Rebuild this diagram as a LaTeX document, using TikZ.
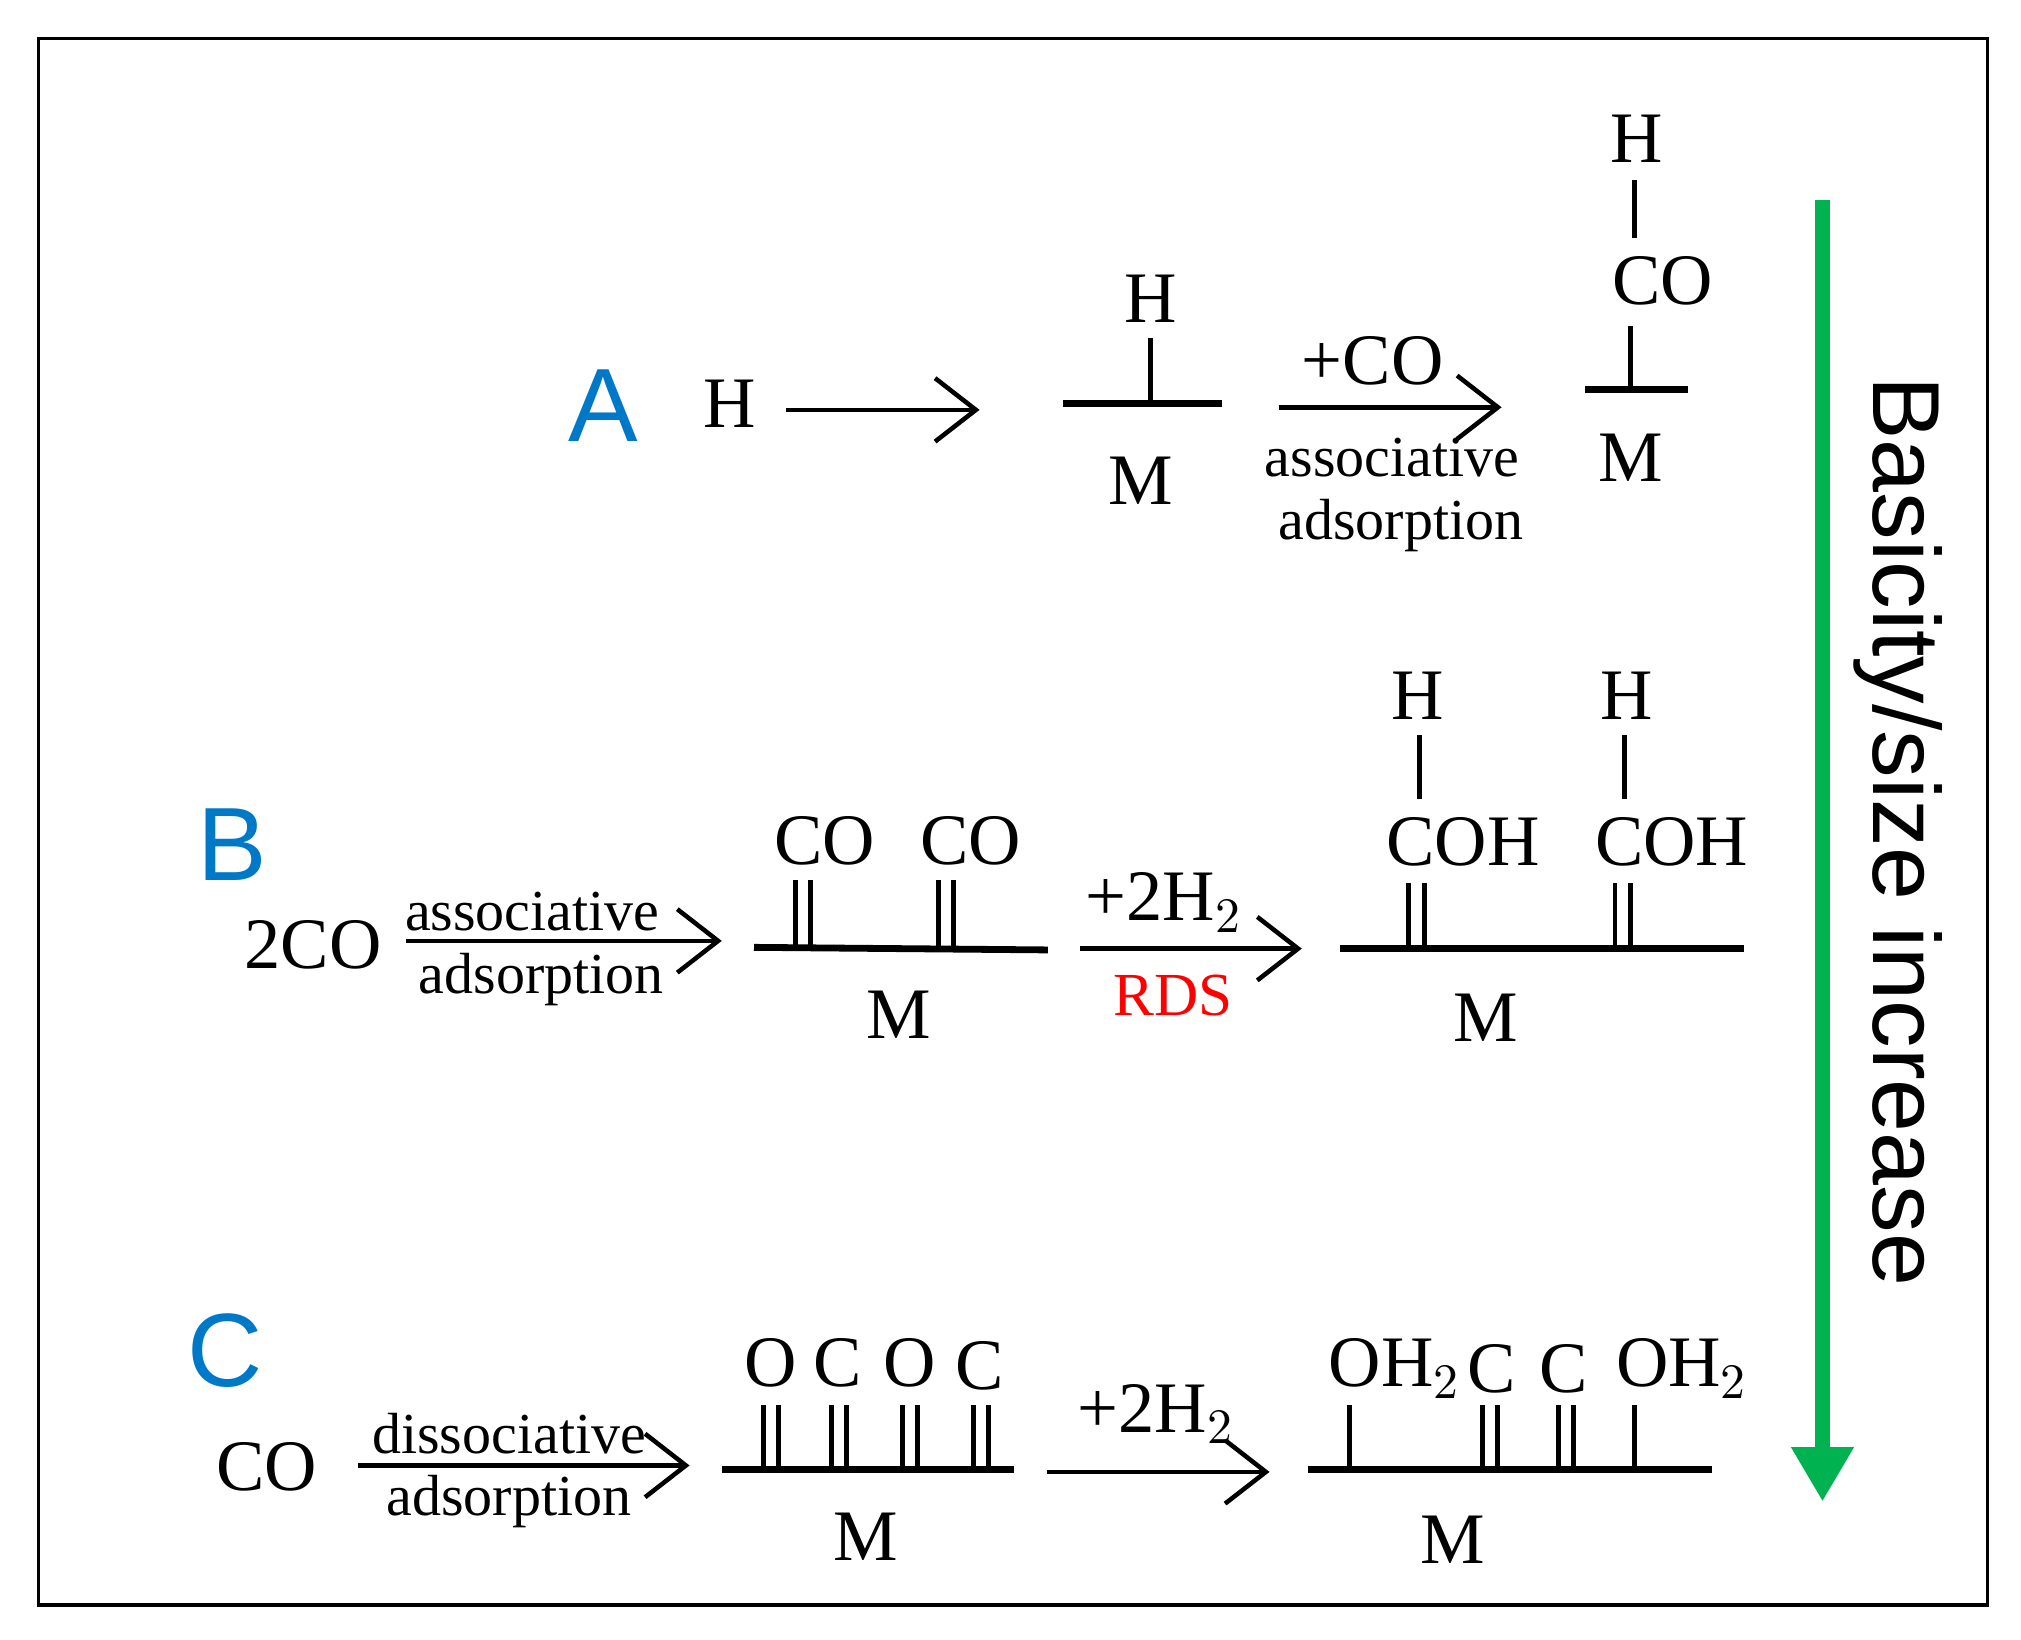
\documentclass[tikz,border=0pt]{standalone}
\usepackage{fontspec}
\setmainfont{Liberation Serif}
\newfontfamily\arialf{Liberation Sans}
\usetikzlibrary{arrows.meta}
\definecolor{lblue}{RGB}{0,120,200}
\definecolor{agreen}{RGB}{0,178,80}
\begin{document}
\begin{tikzpicture}[x=0.01cm,y=-0.01cm,
  txt/.style={font=\fontsize{16}{18}\selectfont,inner sep=0pt},
  sm/.style={font=\fontsize{12.8}{15}\selectfont,inner sep=0pt},
  lab/.style={font=\arialf\fontsize{23}{25}\selectfont,text=lblue,inner sep=0pt},
  rx/.style={line width=1pt,-{Straight Barb[length=9pt,width=14pt,line width=1pt]}},
  surf/.style={line width=1.5pt},
  bond/.style={line width=1.1pt}]
\useasboundingbox (0,0) rectangle (1568,1272);
\draw[line width=0.8pt] (30,30) rectangle (1542,1245);
% A
\node[lab] (la) at (468,315) {A};
\node[txt] (hA) at (566,313) {H};
\coordinate (a1) at (610,318); \coordinate (a2) at (760,318);
\draw[rx] (a1) -- (a2);
\draw[surf] (825,313) -- (948,313);
\draw[bond] (893,313) -- (893,262);
\node[txt] at (893,232) {H};
\node[txt] at (885,373) {M};
\coordinate (a3) at (992,316); \coordinate (a4) at (1165,316);
\draw[rx] (a3) -- (a4);
\node[txt] at (1065,280) {+CO};
\node[sm] at (1080,355) {associative};
\node[sm] at (1087,408) {adsorption};
\draw[surf] (1230,302) -- (1310,302);
\draw[bond] (1265,302) -- (1265,253);
\node[txt] at (1290,218) {CO};
\draw[bond] (1268,185) -- (1268,140);
\node[txt] at (1270,108) {H};
\node[txt] at (1265,355) {M};
% green arrow
\coordinate (g1) at (1414,155); \coordinate (g2) at (1414,1165);
\draw[agreen,line width=3.2pt,-{Triangle[length=12pt,width=13pt]}] (g1) -- (g2);
\node[font=\arialf\fontsize{21}{24}\selectfont,rotate=-90,inner sep=0pt] at (1473,645) {Basicity/size increase};
% B
\node[lab] at (180,655) {B};
\node[txt] at (243,733) {2CO};
\coordinate (b1) at (315,730); \coordinate (b2) at (560,730);
\draw[rx] (b1) -- (b2);
\node[sm] at (413,707) {associative};
\node[sm] at (420,760) {adsorption};
\draw[surf] (585,735) -- (813,737);
\foreach \x in {617,629,728,740} \draw[bond] (\x,735) -- (\x,683);
\node[txt] at (640,652) {CO};
\node[txt] at (753,652) {CO};
\node[txt] at (697,787) {M};
\coordinate (b3) at (838,736); \coordinate (b4) at (1010,736);
\draw[rx] (b3) -- (b4);
\node[txt] at (903,700) {+2H$_2$};
\node[inner sep=0pt,text=red,font=\fontsize{13.5}{15}\selectfont] at (910,772) {RDS};
\draw[surf] (1040,736) -- (1353,736);
\foreach \x in {1093,1105,1253,1265} \draw[bond] (\x,736) -- (\x,685);
\node[txt] at (1135,653) {COH};
\node[txt] at (1297,653) {COH};
\draw[bond] (1101,620) -- (1101,570);
\draw[bond] (1260,620) -- (1260,570);
\node[txt] at (1100,540) {H};
\node[txt] at (1262,540) {H};
\node[txt] at (1153,790) {M};
% C
\node[lab] at (175,1048) {C};
\node[txt] at (207,1138) {CO};
\coordinate (c1) at (278,1137); \coordinate (c2) at (535,1137);
\draw[rx] (c1) -- (c2);
\node[sm] at (395,1112) {dissociative};
\node[sm] at (395,1165) {adsorption};
\draw[surf] (560,1140) -- (787,1140);
\foreach \x in {592,604,645,657,700,712,755,767} \draw[bond] (\x,1140) -- (\x,1090);
\node[txt] at (598,1057) {O};
\node[txt] at (650,1057) {C};
\node[txt] at (706,1057) {O};
\node[txt] at (760,1060) {C};
\node[txt] at (672,1192) {M};
\coordinate (c3) at (812,1142); \coordinate (c4) at (985,1142);
\draw[rx] (c3) -- (c4);
\node[txt] at (897,1097) {+2H$_2$};
\draw[surf] (1015,1140) -- (1328,1140);
\foreach \x in {1047,1268} \draw[bond] (\x,1140) -- (\x,1090);
\foreach \x in {1150,1162,1209,1221} \draw[bond] (\x,1140) -- (\x,1090);
\node[txt] at (1082,1062) {OH$_2$};
\node[txt] at (1157,1062) {C};
\node[txt] at (1213,1062) {C};
\node[txt] at (1305,1062) {OH$_2$};
\node[txt] at (1127,1195) {M};
\end{tikzpicture}
\end{document}
